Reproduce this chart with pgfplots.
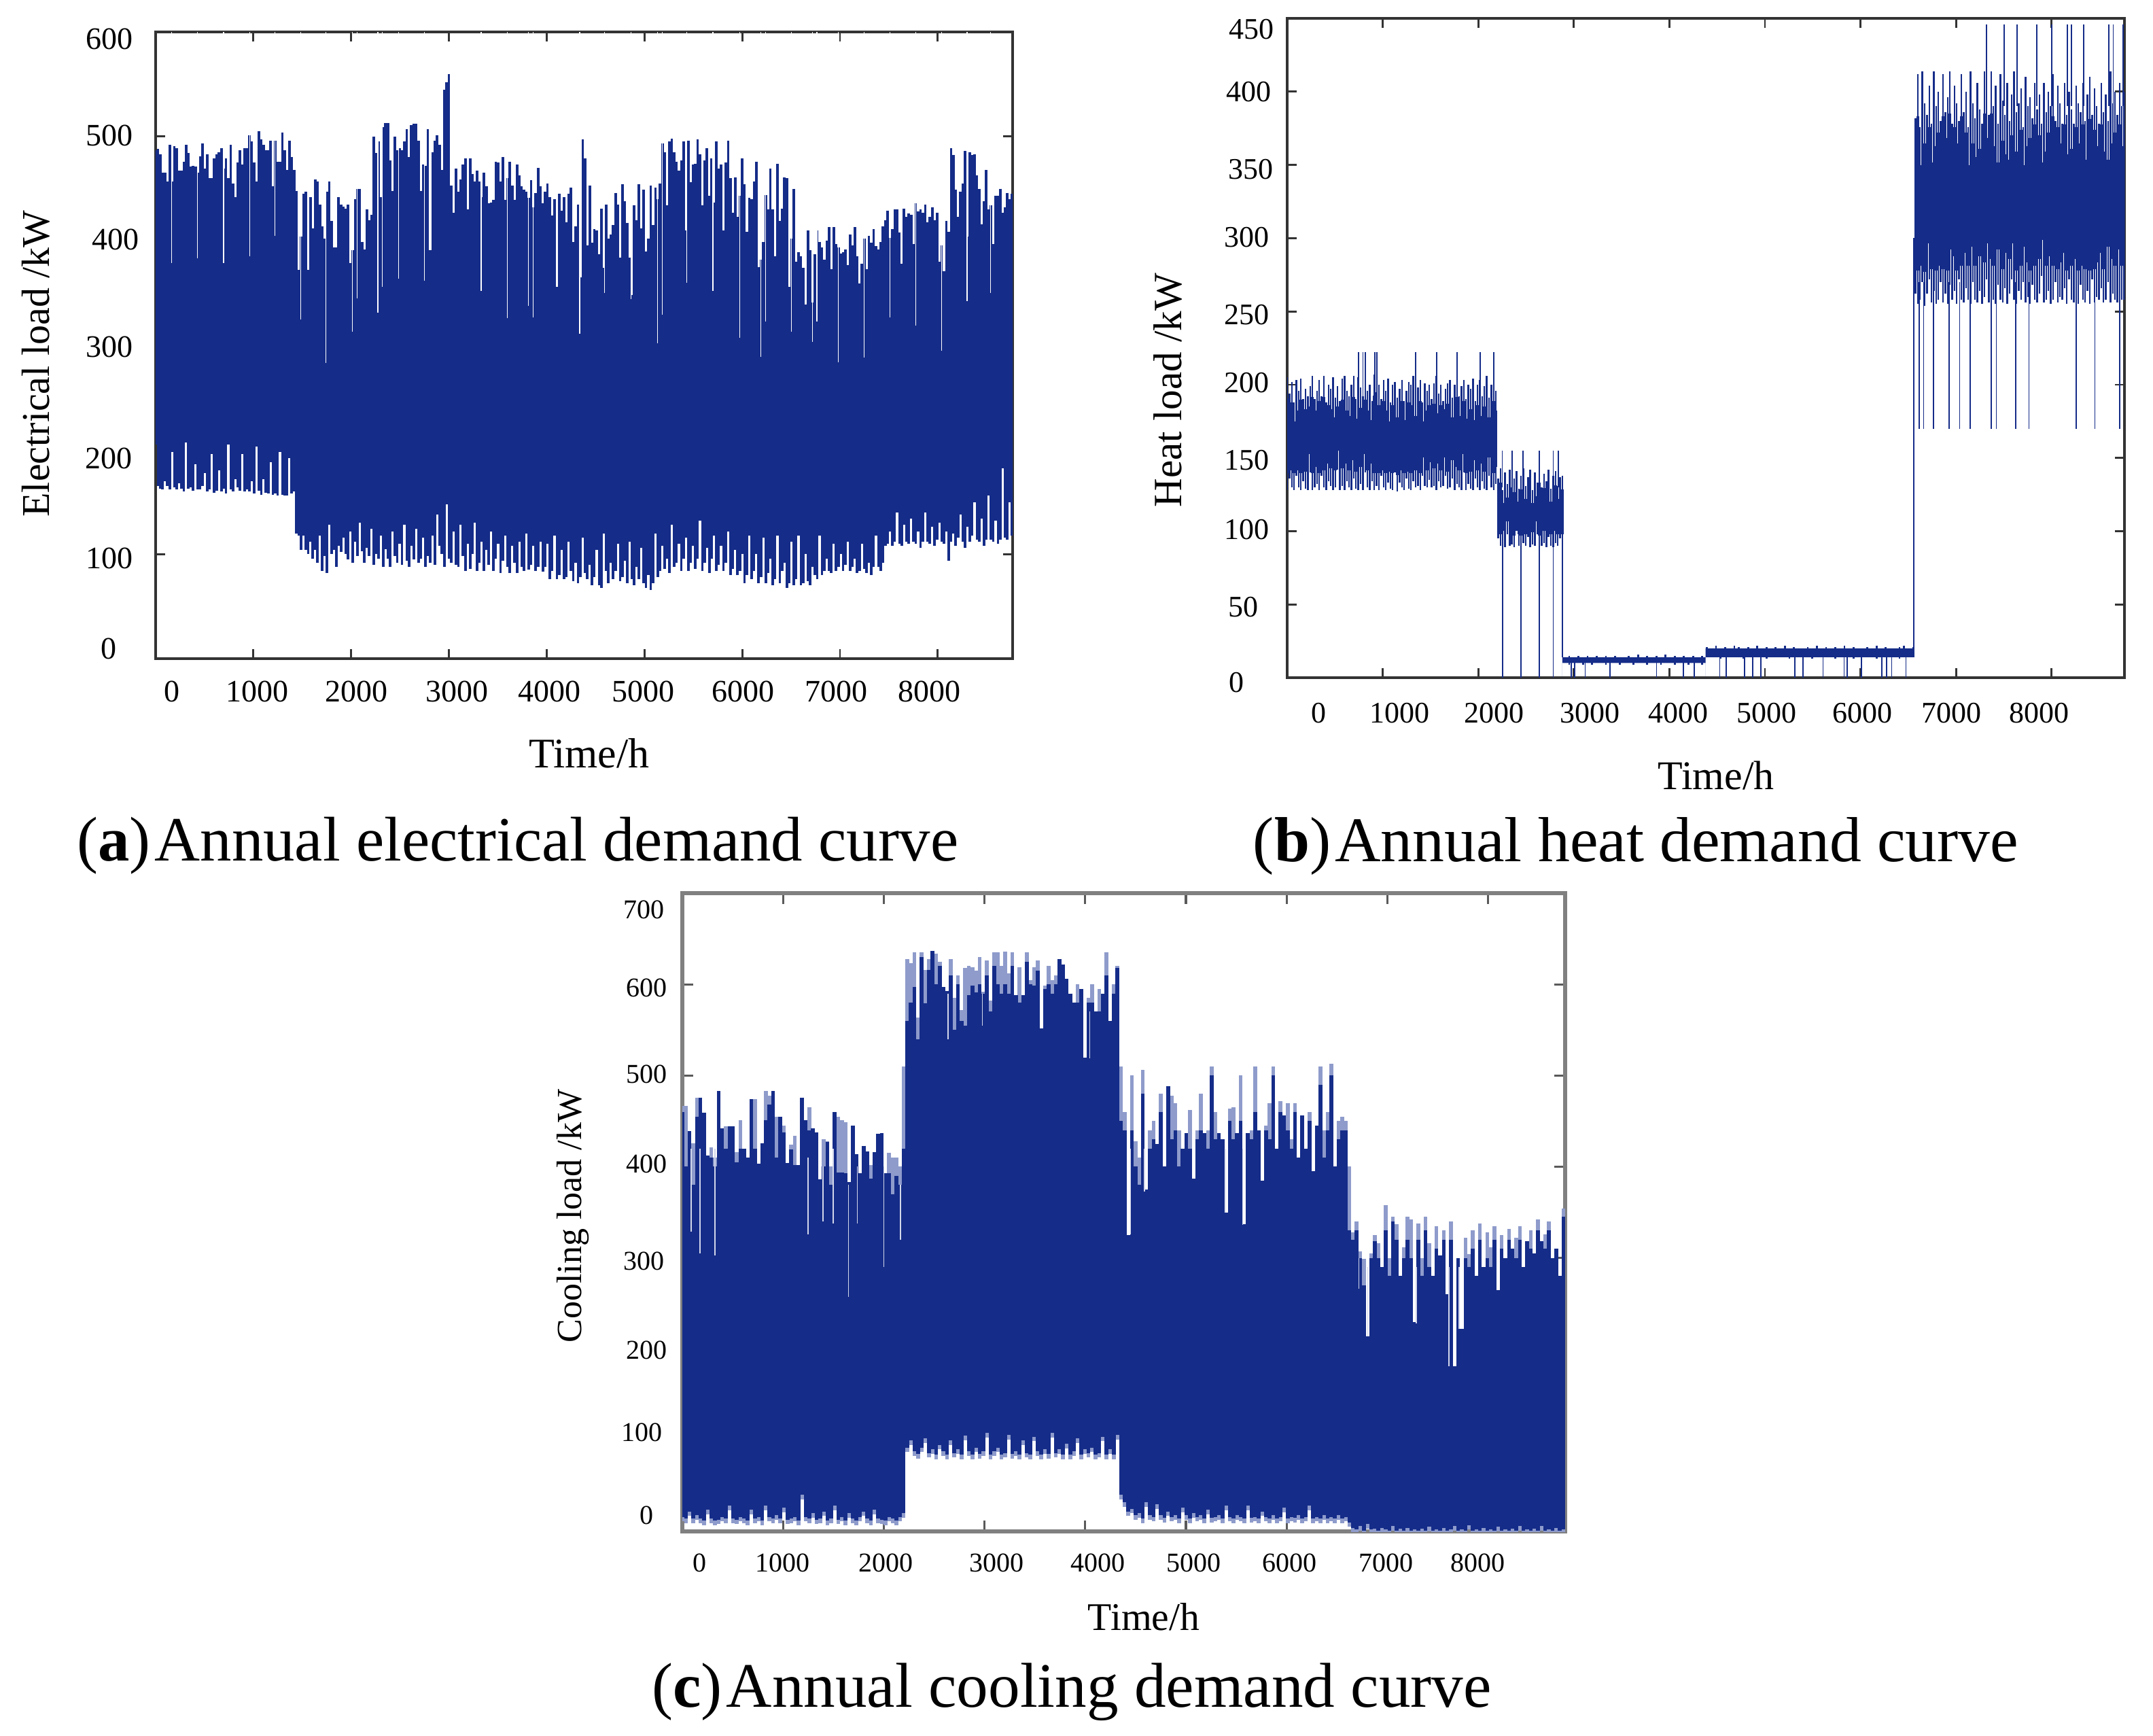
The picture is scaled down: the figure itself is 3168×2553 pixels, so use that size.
\documentclass[border=0pt]{standalone}
\usepackage{fontspec}
\setmainfont{Liberation Serif}
\usepackage{pgfplots}
\usepackage{pgfplotstable}
\pgfplotsset{compat=1.18}
\definecolor{loadblue}{HTML}{152C88}
\definecolor{lightblue}{HTML}{8E9BCB}
\definecolor{frame}{HTML}{333333}
\definecolor{framec}{HTML}{808080}

% bars from lo up to hi, one row per day
\pgfplotsset{
  bars/.style 2 args={draw=none,mark=none,forget plot,
    error bars/.cd,y dir=minus,y explicit,error mark=none,
    error bar style={line width=#1,color=#2,line cap=butt}},
  panel/.style={scale only axis,anchor=south west,xmin=0,xmax=8766,
    xtick={1000,2000,...,8000},xticklabels={},yticklabels={},
    tick align=inside,major tick length=3.5pt,
    tick style={frame,line width=0.7pt},
    axis line style={frame,line width=1pt},
    every axis plot/.append style={line cap=butt}}
}

\pgfplotstableread{
x hi lo
0 487 205
24 488 165
48 483 163
72 465 162
96 465 170
120 457 165
144 492 162
168 457 198
192 491 164
216 489 162
240 467 168
264 467 163
288 476 160
312 492 207
336 484 163
360 471 164
384 472 161
408 471 186
432 465 162
456 481 162
480 493 165
504 469 178
528 483 160
552 460 162
576 460 196
600 479 159
624 483 161
648 485 180
672 489 160
696 469 163
720 479 158
744 460 205
768 492 162
792 455 160
816 442 172
840 475 164
864 487 161
888 473 196
912 489 160
936 489 162
960 501 160
984 495 170
1008 475 158
1032 457 203
1056 505 161
1080 497 157
1104 492 172
1128 487 159
1152 487 158
1176 496 188
1200 452 157
1224 496 158
1248 476 156
1272 476 198
1296 504 157
1320 487 156
1344 468 156
1368 496 192
1392 480 158
1416 468 160
1440 448 120
1464 372 118
1488 404 104
1512 445 118
1536 447 104
1560 372 100
1584 442 112
1608 412 96
1632 459 104
1656 457 92
1680 435 118
1704 414 84
1728 402 98
1752 447 82
1776 457 128
1800 419 100
1824 394 104
1848 394 88
1872 442 108
1896 435 102
1920 433 116
1944 431 100
1968 435 95
1992 379 122
2016 391 92
2040 440 112
2064 450 98
2088 450 130
2112 399 103
2136 392 92
2160 430 106
2184 420 98
2208 425 124
2232 500 90
2256 484 100
2280 495 96
2304 442 118
2328 509 88
2352 513 105
2376 513 96
2400 477 88
2424 448 122
2448 500 98
2472 487 92
2496 489 110
2520 487 90
2544 495 128
2568 507 94
2592 480 88
2616 511 108
2640 512 95
2664 512 124
2688 496 92
2712 448 96
2736 473 116
2760 472 88
2784 507 98
2808 391 92
2832 485 118
2856 496 90
2880 501 138
2904 492 108
2928 468 100
2952 545 88
2976 552 148
3000 560 96
3024 453 92
3048 427 122
3072 469 90
3096 447 88
3120 459 128
3144 473 98
3168 479 84
3192 430 110
3216 479 86
3240 464 100
3264 457 130
3288 467 84
3312 457 92
3336 442 112
3360 465 84
3384 452 104
3408 436 90
3432 437 122
3456 439 84
3480 476 96
3504 475 110
3528 457 82
3552 480 94
3576 439 118
3600 460 88
3624 476 82
3648 453 108
3672 439 92
3696 473 82
3720 463 112
3744 452 88
3768 449 84
3792 447 120
3816 441 85
3840 458 90
3864 432 108
3888 446 84
3912 470 88
3936 452 112
3960 436 83
3984 447 88
4008 455 110
4032 442 76
4056 424 84
4080 440 118
4104 356 76
4128 445 80
4152 429 104
4176 442 76
4200 418 78
4224 445 112
4248 451 84
4272 399 74
4296 414 92
4320 435 72
4344 365 78
4368 497 116
4392 479 82
4416 396 76
4440 453 90
4464 398 70
4488 411 78
4512 410 104
4536 387 70
4560 431 68
4584 374 120
4608 435 84
4632 402 72
4656 406 92
4680 415 76
4704 446 84
4728 435 110
4752 384 74
4776 454 78
4800 438 94
4824 417 72
4848 384 112
4872 348 76
4896 434 70
4920 420 88
4944 454 76
4968 412 106
4992 449 72
5016 390 68
5040 402 80
5064 453 66
5088 415 72
5112 451 120
5136 440 78
5160 455 84
5184 493 108
5208 485 86
5232 434 96
5256 495 82
5280 498 128
5304 485 88
5328 476 92
5352 467 110
5376 477 84
5400 495 96
5424 410 116
5448 496 84
5472 456 92
5496 473 108
5520 474 86
5544 497 96
5568 483 132
5592 434 84
5616 477 92
5640 489 106
5664 443 82
5688 479 96
5712 437 118
5736 495 84
5760 469 90
5784 473 108
5808 410 84
5832 475 92
5856 496 122
5880 460 80
5904 427 86
5928 461 104
5952 423 80
5976 443 84
6000 479 100
6024 454 72
6048 409 80
6072 441 118
6096 440 76
6120 457 84
6144 476 100
6168 375 72
6192 382 78
6216 399 116
6240 444 72
6264 430 82
6288 469 96
6312 430 70
6336 385 76
6360 474 118
6384 419 72
6408 431 84
6432 461 92
6456 460 68
6480 356 72
6504 402 112
6528 450 70
6552 380 76
6576 389 118
6600 385 70
6624 374 72
6648 339 100
6672 410 74
6696 391 70
6720 341 88
6744 387 80
6768 410 76
6792 399 118
6816 394 80
6840 382 84
6864 400 96
6888 413 84
6912 373 82
6936 413 110
6960 397 84
6984 394 88
7008 388 100
7032 389 84
7056 392 90
7080 377 112
7104 406 84
7128 396 88
7152 413 96
7176 385 82
7200 359 84
7224 378 110
7248 402 86
7272 373 82
7296 405 92
7320 398 80
7344 411 88
7368 395 118
7392 392 88
7416 399 84
7440 414 92
7464 420 108
7488 429 110
7512 403 122
7536 411 108
7560 430 112
7584 430 140
7608 408 110
7632 378 108
7656 431 128
7680 423 112
7704 426 110
7728 425 134
7752 397 112
7776 436 110
7800 428 122
7824 430 106
7848 427 112
7872 435 140
7896 418 112
7920 423 110
7944 432 126
7968 420 108
7992 427 114
8016 380 130
8040 396 112
8064 371 110
8088 419 122
8112 409 94
8136 489 112
8160 482 120
8184 449 108
8208 423 116
8232 447 138
8256 455 112
8280 486 106
8304 404 126
8328 485 112
8352 482 118
8376 483 150
8400 463 114
8424 450 112
8448 416 134
8472 438 108
8496 468 114
8520 430 156
8544 434 114
8568 397 112
8592 443 132
8616 443 110
8640 450 114
8664 427 182
8688 432 116
8712 446 114
8736 440 150
8760 445 118
}\elecdata

% thin white notches of the electrical curve
\pgfplotstableread{
x lo hi
164 379 600
430 383 600
695 379 600
965 385 600
1218 405 600
1482 325 600
1744 283 600
2010 313 600
2059 345 600
2273 331 600
2320 356 600
2486 364 600
2752 362 600
3330 352 600
3597 326 600
3815 338 600
3860 327 600
4338 311 600
4590 350 600
4860 344 600
5132 302 600
5180 329 600
5430 360 600
5700 352 600
5973 307 600
6190 289 600
6238 323 600
6503 313 600
6716 303 600
6764 323 600
6982 284 600
7247 288 600
7510 327 600
7775 319 600
8040 295 600
8300 342 600
8540 350 600
}\elecnotch

\pgfplotstableread{
x hi lo
0 205 128
24 194 136
48 202 130
72 188 128
96 203 138
120 196 130
144 204 128
168 190 134
192 197 129
216 192 128
240 199 140
264 206 128
288 190 130
312 196 132
336 203 128
360 192 138
384 206 130
408 188 128
432 200 134
456 197 131
480 205 128
504 191 130
528 199 142
552 189 128
576 204 131
600 206 128
624 196 134
648 192 130
672 200 128
696 206 136
720 190 129
744 205 128
768 198 132
792 192 128
816 204 140
840 196 130
864 200 128
888 189 134
912 207 128
936 195 131
960 200 128
984 190 138
1008 203 130
1032 196 128
1056 204 133
1080 188 129
1104 200 128
1128 202 140
1152 191 127
1176 197 133
1200 203 130
1224 189 128
1248 196 136
1272 202 129
1296 200 128
1320 206 134
1344 192 130
1368 198 131
1392 203 128
1416 188 138
1440 201 131
1464 196 130
1488 200 135
1512 190 130
1536 201 131
1560 206 128
1584 194 134
1608 200 130
1632 189 131
1656 197 138
1680 201 129
1704 203 130
1728 191 136
1752 200 128
1776 206 132
1800 192 130
1824 199 128
1848 203 140
1872 190 128
1896 200 132
1920 197 129
1944 204 128
1968 189 136
1992 200 130
2016 203 128
2040 192 134
2064 199 129
2088 206 128
2112 191 138
2136 200 130
2160 203 128
2184 196 132
2208 136 95
2232 143 90
2256 128 92
2280 140 89
2304 132 98
2328 142 90
2352 130 91
2376 136 89
2400 141 100
2424 129 90
2448 138 89
2472 143 92
2496 131 90
2520 137 96
2544 142 89
2568 128 91
2592 140 90
2616 133 98
2640 143 89
2664 130 90
2688 139 92
2712 134 89
2736 142 96
2760 129 90
2784 138 89
2808 141 92
2832 131 90
2856 137 95
2880 138 90
6576 382 262
6600 412 255
6624 376 258
6648 414 270
6672 392 254
6696 384 262
6720 404 272
6744 378 256
6768 414 264
6792 390 255
6816 400 258
6840 380 270
6864 412 256
6888 386 262
6912 396 255
6936 414 268
6960 378 258
6984 404 264
7008 392 255
7032 380 272
7056 412 258
7080 386 256
7104 400 266
7128 376 258
7152 414 255
7176 392 270
7200 382 258
7224 406 256
7248 388 264
7272 378 255
7296 414 260
7320 396 272
7344 384 256
7368 414 262
7392 390 258
7416 404 255
7440 378 268
7464 412 258
7488 394 256
7512 384 266
7536 406 255
7560 380 262
7584 398 272
7608 414 258
7632 386 255
7656 392 264
7680 402 258
7704 376 270
7728 410 256
7752 390 260
7776 396 255
7800 382 268
7824 406 258
7848 388 256
7872 398 262
7896 378 274
7920 406 256
7944 386 258
7968 400 264
7992 390 255
8016 412 258
8040 380 270
8064 404 256
8088 392 260
8112 378 258
8136 406 266
8160 384 255
8184 400 272
8208 388 258
8232 378 256
8256 404 262
8280 392 255
8304 386 268
8328 406 258
8352 380 256
8376 398 264
8400 410 255
8424 384 272
8448 402 256
8472 390 260
8496 378 258
8520 406 266
8544 386 256
8568 398 258
8592 380 270
8616 414 256
8640 392 262
8664 400 258
8688 384 256
8712 406 268
8736 390 258
8760 400 258
}\heatfringe

\pgfplotstableread{
x hi lo
2904 14 10
2952 15 9
3000 14 10
3048 15 10
3096 13 9
3144 15 10
3192 14 9
3240 15 10
3288 13 10
3336 15 9
3384 14 10
3432 15 10
3480 14 9
3528 13 10
3576 15 10
3624 14 9
3672 16 10
3720 14 10
3768 15 9
3816 13 10
3864 15 10
3912 14 9
3960 16 10
4008 14 10
4056 15 9
4104 14 10
4152 15 10
4200 13 9
4248 15 10
4296 14 10
4344 15 9
4392 21 14
4440 20 15
4488 22 14
4536 20 13
4584 21 15
4632 20 14
4680 22 14
4728 21 15
4776 20 13
4824 21 14
4872 19 15
4920 22 14
4968 20 14
5016 21 13
5064 20 15
5112 21 14
5160 19 14
5208 22 15
5256 20 13
5304 21 14
5352 20 15
5400 19 14
5448 21 14
5496 20 13
5544 22 15
5592 20 14
5640 21 14
5688 19 15
5736 21 13
5784 20 14
5832 22 14
5880 20 15
5928 21 13
5976 20 14
6024 19 15
6072 21 14
6120 20 14
6168 22 13
6216 20 15
6264 21 14
6312 20 14
6360 19 15
6408 21 13
6456 22 14
6504 20 14
6552 21 15
}\heatlow

% single thin spikes of the heat curve
\pgfplotstableread{
x hi lo
746 222 190
793 222 190
818 222 190
916 222 190
938 222 190
1345 222 190
1566 222 190
1777 222 190
2020 222 190
2162 222 190
2250 155 130
2353 155 130
2470 155 130
2640 155 130
2784 155 130
2838 155 130
2257 100 0
2449 100 0
2640 100 0
2784 100 0
2880 100 14
2975 12 0
3010 12 0
3119 12 0
3379 12 0
3865 12 0
4145 12 0
4261 12 0
4528 16 0
4597 16 0
4788 16 0
4870 16 0
4959 16 0
5315 16 0
5397 16 0
5609 16 0
5828 16 0
5862 16 0
6012 16 0
6224 16 0
6272 16 0
6327 16 0
6477 16 0
6560 300 14
6614 270 170
6662 270 170
6765 270 170
6929 270 170
7038 270 170
7148 270 170
7367 270 170
7421 270 170
7627 270 170
7764 270 170
8256 270 170
8454 270 170
8714 270 170
7318 446 390
7503 446 390
7640 446 390
7845 446 390
8002 446 390
8167 446 390
8208 446 390
8338 446 390
8598 446 390
8646 446 390
8748 446 390
}\heatspikes

\pgfplotstableread{
x top hi lo
0 467 460 16
36 467 400 14
72 439 439 22
108 426 380 14
144 476 455 18
180 476 476 14
216 459 459 12
252 412 412 24
288 421 410 14
324 410 400 12
360 483 483 13
396 442 442 16
432 444 420 14
468 444 444 28
504 444 444 14
540 416 405 13
576 451 420 16
612 420 420 14
648 410 410 12
684 474 474 24
720 474 420 14
756 403 403 16
792 426 426 12
828 483 451 28
864 478 468 16
900 483 483 14
936 455 410 18
972 455 455 14
1008 445 438 26
1044 404 404 13
1080 424 419 14
1116 434 402 16
1152 402 402 12
1188 476 476 40
1224 451 451 16
1260 465 440 14
1296 442 442 20
1332 438 438 13
1368 386 386 14
1404 430 400 22
1440 428 427 12
1476 400 380 14
1512 460 460 28
1548 455 394 13
1584 451 394 16
1620 449 393 12
1656 383 383 20
1692 445 445 14
1728 414 414 12
1764 393 393 16
1800 423 423 22
1836 417 417 14
1872 402 387 12
1908 416 416 24
1944 436 436 14
1980 437 437 13
2016 393 393 12
2052 415 393 16
2088 410 370 14
2124 410 390 12
2160 400 380 16
2196 510 420 20
2232 628 560 92
2268 623 580 100
2304 635 597 88
2340 564 540 85
2376 635 630 92
2412 616 579 102
2448 628 616 86
2484 637 637 90
2520 634 600 84
2556 625 620 95
2592 597 597 88
2628 593 593 84
2664 628 610 100
2700 585 550 86
2736 610 600 90
2772 572 560 84
2808 618 555 105
2844 620 588 88
2880 619 599 84
2916 615 591 92
2952 630 600 85
2988 592 590 88
3024 626 610 108
3060 582 570 84
3096 635 620 88
3132 635 600 92
3168 620 590 84
3204 636 600 86
3240 612 590 106
3276 635 620 85
3312 588 588 88
3348 619 580 84
3384 588 588 100
3420 635 625 86
3456 605 600 84
3492 619 599 104
3528 626 615 88
3564 552 552 84
3600 599 595 90
3636 620 600 85
3672 605 590 108
3708 610 600 86
3744 628 628 90
3780 622 622 84
3816 606 606 96
3852 590 590 84
3888 580 580 88
3924 600 580 102
3960 595 595 84
3996 520 520 90
4032 585 580 86
4068 600 580 92
4104 570 570 84
4140 595 570 86
4176 590 590 104
4212 635 610 84
4248 560 560 90
4284 600 590 84
4320 620 618 106
4356 510 450 40
4392 460 440 32
4428 325 325 22
4464 500 440 25
4500 428 400 18
4536 410 380 20
4572 506 480 14
4608 375 375 32
4644 440 420 18
4680 450 430 16
4716 425 425 30
4752 480 460 18
4788 400 400 15
4824 488 488 22
4860 478 430 16
4896 470 440 18
4932 440 400 14
4968 420 420 26
5004 437 437 18
5040 462 420 14
5076 387 387 20
5112 440 430 16
5148 480 440 18
5184 437 437 14
5220 440 420 24
5256 510 500 15
5292 460 430 16
5328 437 437 18
5364 430 430 14
5400 350 350 28
5436 464 450 16
5472 465 430 14
5508 437 437 18
5544 500 450 16
5580 337 337 14
5616 437 437 28
5652 440 430 15
5688 510 460 16
5724 440 440 14
5760 385 385 22
5796 445 440 16
5832 470 430 14
5868 510 500 18
5904 420 420 14
5940 472 460 16
5976 456 456 26
6012 470 440 14
6048 430 420 16
6084 470 460 15
6120 410 410 18
6156 456 456 14
6192 420 420 16
6228 460 450 28
6264 395 395 14
6300 445 445 16
6336 510 490 14
6372 440 410 18
6408 460 440 14
6444 513 500 16
6480 400 400 14
6516 450 430 18
6552 455 440 14
6588 450 440 16
6624 400 330 10
6660 328 320 4
6696 340 330 2
6732 307 300 6
6768 299 270 1
6804 214 214 8
6840 305 300 2
6876 325 318 3
6912 316 300 1
6948 290 290 4
6984 358 330 2
7020 300 280 1
7056 345 340 6
7092 337 320 1
7128 280 280 3
7164 312 300 1
7200 345 320 4
7236 342 300 1
7272 230 230 2
7308 338 320 1
7344 300 280 3
7380 345 330 1
7416 316 290 5
7452 280 280 1
7488 335 310 2
7524 303 303 1
7560 330 320 4
7596 260 260 1
7632 340 320 2
7668 181 181 6
7704 300 300 1
7740 222 222 2
7776 322 300 1
7812 304 290 7
7848 330 310 1
7884 280 280 2
7920 338 320 1
7956 290 290 4
7992 328 300 1
8028 312 290 2
8064 335 320 1
8100 265 265 5
8136 325 310 1
8172 300 300 2
8208 332 320 1
8244 310 310 3
8280 322 300 1
8316 335 320 6
8352 290 290 1
8388 318 318 2
8424 330 310 1
8460 305 305 3
8496 342 330 1
8532 318 318 6
8568 326 310 1
8604 340 330 2
8640 300 300 1
8676 310 310 4
8712 280 280 1
8748 354 345 2
}\cooldata

% thin pale notches of the cooling curve, inside the body only
\pgfplotstableread{
x lo hi
87 329 420
175 305 420
322 303 420
1248 326 410
1396 340 400
1497 338 420
1651 257 380
1738 338 400
2000 290 400
2168 320 380
2640 540 590
2980 555 590
4046 519 570
4450 326 420
4590 373 420
5396 350 420
5563 336 420
6805 214 290
6718 266 300
7289 228 290
7610 181 290
7711 222 290
}\coolnotch

\begin{document}
\begin{tikzpicture}[x=0.25pt,y=-0.25pt]
\path[use as bounding box] (0,0) rectangle (3168,2553);

% (a) electrical
\begin{axis}[panel,at={(57.25pt,-242.25pt)},width=315.25pt,height=230.5pt,
  ymin=0,ymax=600,ytick={100,200,300,400,500}]
  \addplot[bars={0.93pt}{loadblue}]
    table[x=x,y=hi,y error expr=\thisrow{hi}-\thisrow{lo}] {\elecdata};
  \addplot[bars={0.28pt}{white}]
    table[x=x,y=hi,y error expr=\thisrow{hi}-\thisrow{lo}] {\elecnotch};
\end{axis}

% (b) heat: narrow bars at the fringe, the same rows drawn wide for the solid middle
\begin{axis}[panel,at={(473.5pt,-249.25pt)},width=308.1pt,height=242.5pt,
  ymin=0,ymax=450,ytick={50,100,...,400}]
  \addplot[bars={0.6pt}{loadblue}]
    table[x=x,y=hi,y error expr=\thisrow{hi}-\thisrow{lo}] {\heatfringe};
  \addplot[bars={0.9pt}{loadblue}]
    table[x=x,y expr=\thisrow{hi}*0.93,y error expr=\thisrow{hi}*0.93-\thisrow{lo}*1.09] {\heatfringe};
  \addplot[fill=loadblue,draw=none,forget plot] coordinates {(2880,10) (4378,10) (4378,14) (2880,14)} \closedcycle;
  \addplot[fill=loadblue,draw=none,forget plot] coordinates {(4378,14) (6560,14) (6560,20) (4378,20)} \closedcycle;
  \addplot[bars={0.7pt}{loadblue}]
    table[x=x,y=hi,y error expr=\thisrow{hi}-\thisrow{lo}] {\heatlow};
  \addplot[bars={0.42pt}{loadblue}]
    table[x=x,y=hi,y error expr=\thisrow{hi}-\thisrow{lo}] {\heatspikes};
\end{axis}

% (c) cooling, pale and blurred frame
\begin{axis}[panel,at={(251pt,-563.25pt)},width=324.75pt,height=234.75pt,
  ymin=0,ymax=700,ytick={100,200,...,600},
  tick style={framec!70!black,line width=0.8pt},major tick length=4pt,
  axis line style={framec,line width=1.3pt}]
  \addplot[bars={1.4pt}{lightblue}]
    table[x=x,y=top,y error expr=\thisrow{top}-\thisrow{lo}+5] {\cooldata};
  \addplot[bars={1.4pt}{loadblue}]
    table[x=x,y=hi,y error expr=\thisrow{hi}-\thisrow{lo}] {\cooldata};
  \addplot[bars={0.4pt}{lightblue!40}]
    table[x=x,y=hi,y error expr=\thisrow{hi}-\thisrow{lo}] {\coolnotch};
\end{axis}

% tick labels sit off the ticks in the source, so they are placed one by one
\begin{scope}[every node/.style={inner sep=0pt,font=\fontsize{11.5}{13}\selectfont}]
  \foreach \t/\xx/\yy in {600/161/57,500/161/199,400/170/352,300/161/510,200/160/674,100/161/821,0/160/954,
    0/253/1017,1000/378/1017,2000/524/1017,3000/672/1017,4000/808/1017,5000/946/1017,6000/1093/1017,7000/1230/1017,8000/1367/1017}
    \node at (\xx,\yy) {\t};
\end{scope}
\begin{scope}[every node/.style={inner sep=0pt,font=\fontsize{11}{13}\selectfont}]
  \foreach \t/\xx/\yy in {450/1841/43,400/1837/135,350/1840/249,300/1834/349,250/1834/463,200/1834/563,150/1834/677,100/1834/779,50/1829/893,0/1819/1004,
    0/1940/1049,1000/2059/1049,2000/2198/1049,3000/2339/1049,4000/2469/1049,5000/2599/1049,6000/2740/1049,7000/2871/1049,8000/3000/1049}
    \node at (\xx,\yy) {\t};
\end{scope}
\begin{scope}[every node/.style={inner sep=0pt,font=\fontsize{10}{12}\selectfont}]
  \foreach \t/\xx/\yy in {700/947/1338,600/951/1453,500/951/1580,400/951/1712,300/947/1855,200/951/1986,100/944/2107,0/951/2229,
    0/1029/2299,1000/1151/2299,2000/1303/2299,3000/1466/2299,4000/1615/2299,5000/1756/2299,6000/1897/2299,7000/2039/2299,8000/2174/2299}
    \node at (\xx,\yy) {\t};
\end{scope}

% axis titles
\node[rotate=90,inner sep=0pt,font=\fontsize{14.5}{16}\selectfont] at (53,535) {Electrical load /kW};
\node[inner sep=0pt,font=\fontsize{15.5}{18}\selectfont] at (867,1108) {Time/h};
\node[rotate=90,inner sep=0pt,font=\fontsize{14.75}{16}\selectfont] at (1718,574) {Heat load /kW};
\node[inner sep=0pt,font=\fontsize{15}{18}\selectfont] at (2525,1141) {Time/h};
\node[rotate=90,inner sep=0pt,font=\fontsize{13}{15}\selectfont] at (843,1789) {Cooling load /kW};
\node[inner sep=0pt,font=\fontsize{14.4}{17}\selectfont] at (1683,2379) {Time/h};

% captions
\node[inner sep=0pt,font=\fontsize{23.2}{27}\selectfont] at (762,1244) {(\textbf{a})\hspace{1.5pt}Annual electrical demand curve};
\node[inner sep=0pt,font=\fontsize{23.4}{27}\selectfont] at (2407,1245) {(\textbf{b})\hspace{1.5pt}Annual heat demand curve};
\node[inner sep=0pt,font=\fontsize{23.3}{27}\selectfont] at (1577,2489) {(\textbf{c})\hspace{1.5pt}Annual cooling demand curve};
\end{tikzpicture}
\end{document}
